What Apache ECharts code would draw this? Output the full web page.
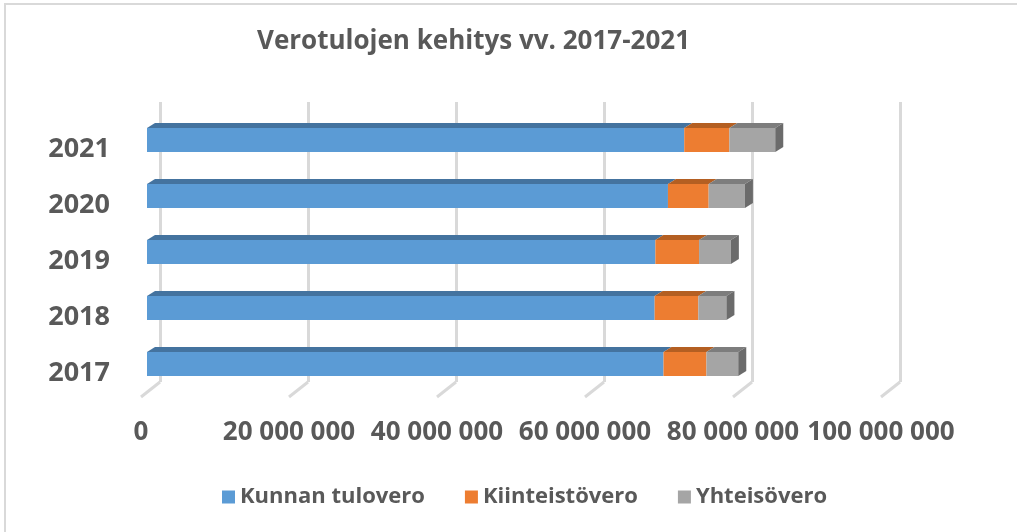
<!DOCTYPE html>
<html>
<head>
<meta charset="utf-8">
<script src="https://cdn.jsdelivr.net/npm/echarts@6/dist/echarts.min.js"></script>
<style>
  html, body { margin: 0; padding: 0; background: #fff; }
  #chart { width: 1017px; height: 532px; }
</style>
</head>
<body>
<div id="chart"></div>
<script>
// vuodet alhaalta ylös
const years = ['2017', '2018', '2019', '2020', '2021'];
const kunnanTulovero = [69800000, 68600000, 68700000, 70400000, 72600000];
const kiinteistovero = [5800000, 5900000, 5900000, 5500000, 6100000];
const yhteisovero = [4300000, 3800000, 4300000, 4900000, 6200000];
const xTicks = [0, 20000000, 40000000, 60000000, 80000000, 100000000];

const seriesNames = ['Kunnan tulovero', 'Kiinteistövero', 'Yhteisövero'];
const frontColors = ['#5b9bd5', '#ed7d31', '#a5a5a5'];
const topColors = ['#44739f', '#b45f22', '#7d7d7d'];
const sideColor = '#6b6b6b';

const DX = 8, DY = 5, BAR_H = 24;

function fmt(v) {
    return String(v).replace(/\B(?=(\d{3})+(?!\d))/g, ' ');
}

// pinotut alku/loppu arvot
function stacked(idx) {
    const lists = [kunnanTulovero, kiinteistovero, yhteisovero];
    return years.map((y, i) => {
        let start = 0;
        for (let k = 0; k < idx; k++) start += lists[k][i];
        return [start, start + lists[idx][i], i];
    });
}

function barRenderer(idx) {
    return function (params, api) {
        const a = api.coord([api.value(0), api.value(2)]);
        const b = api.coord([api.value(1), api.value(2)]);
        const x0 = a[0], x1 = b[0], yc = a[1];
        const yt = yc - BAR_H / 2, yb = yc + BAR_H / 2;
        const children = [
            {
                type: 'polygon',
                shape: { points: [[x0, yt], [x1, yt], [x1 + DX, yt - DY], [x0 + DX, yt - DY]] },
                style: { fill: topColors[idx] }
            },
            {
                type: 'rect',
                shape: { x: x0, y: yt, width: x1 - x0, height: BAR_H },
                style: { fill: frontColors[idx] }
            }
        ];
        if (idx === 2) {
            children.push({
                type: 'polygon',
                shape: { points: [[x1, yt], [x1 + DX, yt - DY], [x1 + DX, yb - DY], [x1, yb]] },
                style: { fill: sideColor }
            });
        }
        return { type: 'group', children: children };
    };
}

const chart = echarts.init(document.getElementById('chart'));

const barSeries = seriesNames.map((name, idx) => ({
    name: name,
    type: 'custom',
    xAxisIndex: 0,
    yAxisIndex: 0,
    itemStyle: { color: frontColors[idx] },
    encode: { x: [0, 1], y: 2 },
    renderItem: barRenderer(idx),
    data: stacked(idx),
    z: 5
}));

chart.setOption({
    backgroundColor: '#fff',
    animation: false,
    textStyle: { fontFamily: 'Open Sans' },
    title: {
        text: 'Verotulojen kehitys vv. 2017-2021',
        left: 252,
        top: 24,
        textStyle: { fontFamily: 'Open Sans', fontWeight: 'bold', fontSize: 26, color: '#595959' }
    },
    legend: {
        left: 217,
        top: 481,
        itemWidth: 13,
        itemHeight: 13,
        itemGap: 40,
        icon: 'rect',
        data: seriesNames,
        textStyle: { fontFamily: 'Open Sans', fontWeight: 'bold', fontSize: 22, color: '#595959' }
    },
    graphic: [{
        type: 'rect',
        silent: true,
        z: -10,
        shape: { x: 5, y: 4, width: 1100, height: 600 },
        style: { fill: 'none', stroke: '#d9d9d9', lineWidth: 2 }
    }],
    grid: [
        // etutaso (palkit)
        { left: 147, top: 112, width: 740, height: 280 },
        // takaseinä (ruudukko)
        { left: 160, top: 102, width: 740, height: 280 }
    ],
    xAxis: [
        {
            type: 'value', gridIndex: 0, min: 0, max: 100000000, interval: 20000000,
            axisLine: { show: false }, axisTick: { show: false }, splitLine: { show: false },
            axisLabel: {
                margin: 28,
                padding: [0, 12, 0, 0],
                formatter: fmt,
                fontFamily: 'Open Sans', fontWeight: 'bold', fontSize: 26, color: '#595959'
            }
        },
        {
            type: 'value', gridIndex: 1, min: 0, max: 100000000, interval: 20000000,
            axisLine: { show: false }, axisTick: { show: false }, axisLabel: { show: false },
            splitLine: { show: true, lineStyle: { color: '#d9d9d9', width: 3 } }
        }
    ],
    yAxis: [
        {
            type: 'category', gridIndex: 0, data: years,
            axisLine: { show: false }, axisTick: { show: false },
            axisLabel: {
                margin: 37,
                formatter: v => '{y|' + v + '}',
                rich: {
                    y: {
                        padding: [18, 0, 0, 0],
                        fontFamily: 'Open Sans', fontWeight: 'bold', fontSize: 27, color: '#595959'
                    }
                }
            }
        },
        {
            type: 'value', gridIndex: 1, min: 0, max: 1, show: false
        }
    ],
    series: barSeries.concat([{
        // lattian vinoviivat
        name: 'floor',
        type: 'custom',
        xAxisIndex: 1,
        yAxisIndex: 1,
        silent: true,
        encode: { x: 0, y: 1 },
        renderItem: function (params, api) {
            const p = api.coord([api.value(0), 0]);
            return {
                type: 'line',
                shape: { x1: p[0], y1: p[1], x2: p[0] - 19, y2: p[1] + 15 },
                style: { stroke: '#d9d9d9', lineWidth: 3 }
            };
        },
        data: xTicks.map(v => [v, 0]),
        z: 1
    }])
});
</script>
</body>
</html>
